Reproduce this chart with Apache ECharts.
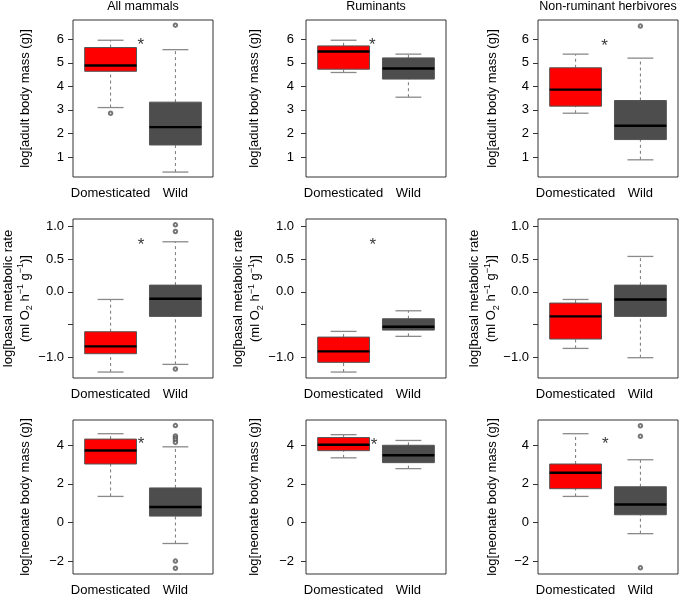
<!DOCTYPE html>
<html><head><meta charset="utf-8">
<script src="https://cdn.jsdelivr.net/npm/echarts@6/dist/echarts.min.js"></script>
<style>html,body{margin:0;padding:0;background:#fff;}#chart{width:685px;height:597px;}</style>
</head><body><div id="chart"></div>
<script>
// ---------- DATA ----------
const columnTitles = ['All mammals', 'Ruminants', 'Non-ruminant herbivores'];
const groupLabels = ['Domesticated', 'Wild'];
const groupPositions = [1, 2];
// box statistics: [lower whisker, Q1, median, Q3, upper whisker], one per column
const adultMassDomesticated = [[3.10, 4.64, 4.89, 5.65, 5.96], [4.59, 4.73, 5.48, 5.72, 5.96], [2.86, 3.16, 3.86, 4.79, 5.37]];
const adultMassWild = [[0.36, 1.51, 2.27, 3.33, 5.56], [3.54, 4.31, 4.76, 5.21, 5.37], [0.88, 1.74, 2.33, 3.40, 5.20]];
const adultMassDomesticatedOutliers = [[2.86], [], []];
const adultMassWildOutliers = [[6.60], [], [6.56]];
const bmrDomesticated = [[-1.224, -0.944, -0.832, -0.608, -0.115], [-1.224, -1.076, -0.908, -0.690, -0.603], [-0.863, -0.720, -0.374, -0.170, -0.115]];
const bmrWild = [[-1.107, -0.374, -0.104, 0.104, 0.766], [-0.679, -0.583, -0.532, -0.410, -0.288], [-1.005, -0.374, -0.115, 0.104, 0.542]];
const bmrDomesticatedOutliers = [[], [], []];
const bmrWildOutliers = [[1.025, 0.924, -1.178], [], []];
const neonateDomesticated = [[1.35, 3.03, 3.73, 4.32, 4.60], [3.35, 3.72, 4.03, 4.40, 4.55], [1.35, 1.75, 2.58, 3.03, 4.60]];
const neonateWild = [[-1.09, 0.33, 0.80, 1.79, 3.92], [2.79, 3.10, 3.48, 4.00, 4.25], [-0.58, 0.40, 0.93, 1.85, 3.25]];
const neonateDomesticatedOutliers = [[], [], []];
const neonateWildOutliers = [[5.02, 4.48, 4.38, 4.27, 4.15, -2.00, -2.37], [], [5.01, 4.47, -2.35]];
// significance asterisks [x, y] per column (null = none)
const adultMassAsterisks = [[1.465, 5.94], [1.443, 5.94], [1.448, 5.90]];
const bmrAsterisks = [[1.469, 0.786], [1.449, 0.786], null];
const neonateAsterisks = [[1.469, 4.30], [1.469, 4.25], [1.459, 4.30]];
// y axes: ticks, labelled ticks, limits
const adultMassTicks = [1, 2, 3, 4, 5, 6];
const adultMassTickLabels = [1, 2, 3, 4, 5, 6];
const adultMassLimits = [0.15, 6.82];
const bmrTicks = [-1, -0.5, 0, 0.5, 1];
const bmrTickLabels = [-1, 0, 0.5, 1];
const bmrLimits = [-1.315, 1.114];
const neonateTicks = [-2, 0, 2, 4];
const neonateTickLabels = [-2, 0, 2, 4];
const neonateLimits = [-2.67, 5.31];

// ---------- LAYOUT / STYLE ----------
const FONT = "'Liberation Sans', Arial, Helvetica, sans-serif";
const X_MIN = 0.42, X_MAX = 2.58;
const colLeft = [73, 306, 538];
const colWidth = 140;
const rowTop = [20, 219, 420];
const rowHeight = [157, 159, 158];
const labelMargin = [9, 12, 9];
const nameGap = [41, 45, 39];
const twoLineNameCenterX = [16.5, 247, 483];
const groupColors = ['#FF0000', '#4D4D4D'];

const rows = [
  { dom: adultMassDomesticated, wild: adultMassWild, domOut: adultMassDomesticatedOutliers, wildOut: adultMassWildOutliers,
    ast: adultMassAsterisks, ticks: adultMassTicks, labels: adultMassTickLabels, lim: adultMassLimits,
    name: 'log[adult body mass (g)]', fmt: v => String(v) },
  { dom: bmrDomesticated, wild: bmrWild, domOut: bmrDomesticatedOutliers, wildOut: bmrWildOutliers,
    ast: bmrAsterisks, ticks: bmrTicks, labels: bmrTickLabels, lim: bmrLimits,
    name: '{a|log[basal metabolic rate}\n{a|(ml O}{sub|2}{a| h}{sup|−1}{a| g}{sup|−1}{a|)]}', rich: true,
    fmt: v => v.toFixed(1).replace('-', '−') },
  { dom: neonateDomesticated, wild: neonateWild, domOut: neonateDomesticatedOutliers, wildOut: neonateWildOutliers,
    ast: neonateAsterisks, ticks: neonateTicks, labels: neonateTickLabels, lim: neonateLimits,
    name: 'log[neonate body mass (g)]', fmt: v => String(v).replace('-', '−') }
];

function renderBox(params, api) {
  const x = api.value(0);
  const lw = api.value(1), q1 = api.value(2), med = api.value(3), q3 = api.value(4), uw = api.value(5);
  const gi = api.value(6);
  const half = 0.4, capHalf = 0.2;
  const xl = api.coord([x - half, med])[0];
  const xr = api.coord([x + half, med])[0];
  const xc = api.coord([x, med])[0];
  const cl = api.coord([x - capHalf, med])[0];
  const cr = api.coord([x + capHalf, med])[0];
  const yLw = api.coord([x, lw])[1], yQ1 = api.coord([x, q1])[1], yMed = api.coord([x, med])[1];
  const yQ3 = api.coord([x, q3])[1], yUw = api.coord([x, uw])[1];
  const dash = { stroke: '#777', lineWidth: 1, lineDash: [3, 3] };
  const cap = { stroke: '#8a8a8a', lineWidth: 1.3 };
  return {
    type: 'group',
    children: [
      { type: 'line', shape: { x1: xc, y1: yQ3, x2: xc, y2: yUw }, style: dash },
      { type: 'line', shape: { x1: xc, y1: yLw, x2: xc, y2: yQ1 }, style: dash },
      { type: 'line', shape: { x1: cl, y1: yUw, x2: cr, y2: yUw }, style: cap },
      { type: 'line', shape: { x1: cl, y1: yLw, x2: cr, y2: yLw }, style: cap },
      { type: 'rect', shape: { x: xl, y: yQ3, width: xr - xl, height: yQ1 - yQ3 },
        style: { fill: groupColors[gi], stroke: '#555', lineWidth: 1 } },
      { type: 'line', shape: { x1: xl, y1: yMed, x2: xr, y2: yMed }, style: { stroke: '#000', lineWidth: 2.4 } }
    ]
  };
}

const grid = [], xAxis = [], yAxis = [], series = [], title = [], graphic = [];
for (let c = 0; c < 3; c++) {
  title.push({ text: columnTitles[c], left: colLeft[c] + colWidth / 2, top: 0, textAlign: 'center', padding: 0,
    textStyle: { fontFamily: FONT, fontSize: 12.5, fontWeight: 'normal', color: '#000' } });
}
rows.forEach((row, r) => {
  for (let c = 0; c < 3; c++) {
    const g = r * 3 + c;
    grid.push({ left: colLeft[c], top: rowTop[r], width: colWidth, height: rowHeight[r],
      show: true, borderColor: '#333', borderWidth: 1, backgroundColor: 'transparent' });
    xAxis.push({ type: 'value', gridIndex: g, min: X_MIN, max: X_MAX,
      axisLine: { show: false }, axisTick: { show: false }, splitLine: { show: false },
      axisLabel: { customValues: groupPositions, formatter: v => groupLabels[Math.round(v) - 1],
        fontFamily: FONT, fontSize: 13, color: '#000', margin: 10 } });
    const yA = { type: 'value', gridIndex: g, min: row.lim[0], max: row.lim[1],
      axisLine: { show: false }, splitLine: { show: false },
      axisTick: { show: true, customValues: row.ticks, length: 5, lineStyle: { color: '#333', width: 1 } },
      axisLabel: { customValues: row.labels, formatter: v => row.fmt(v),
        fontFamily: FONT, fontSize: 13, color: '#000', margin: labelMargin[c] } };
    if (row.rich) {
      // two-line rotated title with sub/superscripts, drawn as a text element beside the axis
      graphic.push({ type: 'text', x: twoLineNameCenterX[c], y: rowTop[r] + rowHeight[r] / 2, rotation: Math.PI / 2, silent: true,
        style: { text: row.name, fontFamily: FONT, fontSize: 13, fill: '#000', align: 'center', verticalAlign: 'middle', lineHeight: 17,
          rich: {
            a: { fontFamily: FONT, fontSize: 13, fill: '#000', lineHeight: 17 },
            sub: { fontFamily: FONT, fontSize: 9, fill: '#000', lineHeight: 17, verticalAlign: 'bottom', padding: [0, 0, -1, 0] },
            sup: { fontFamily: FONT, fontSize: 9, fill: '#000', lineHeight: 17, verticalAlign: 'top' }
          } } });
    } else {
      yA.name = row.name;
      yA.nameLocation = 'middle';
      yA.nameGap = nameGap[c];
      yA.nameTextStyle = { fontFamily: FONT, fontSize: 13, color: '#000' };
    }
    yAxis.push(yA);
    series.push({ type: 'custom', xAxisIndex: g, yAxisIndex: g, renderItem: renderBox, silent: true,
      data: [[groupPositions[0]].concat(row.dom[c], [0]), [groupPositions[1]].concat(row.wild[c], [1])] });
    const outs = row.domOut[c].map(v => [groupPositions[0], v]).concat(row.wildOut[c].map(v => [groupPositions[1], v]));
    series.push({ type: 'scatter', xAxisIndex: g, yAxisIndex: g, silent: true, data: outs,
      symbol: 'emptyCircle', symbolSize: 3.5, itemStyle: { color: '#555', borderColor: '#555', borderWidth: 1.1 } });
    if (row.ast[c]) {
      series.push({ type: 'scatter', xAxisIndex: g, yAxisIndex: g, silent: true, data: [row.ast[c]],
        symbolSize: 2, itemStyle: { color: 'rgba(0,0,0,0)' },
        label: { show: true, formatter: '*', position: 'inside', offset: [0, 5], fontFamily: FONT, fontSize: 17, color: '#000' } });
    }
  }
});

const chart = echarts.init(document.getElementById('chart'), null, { renderer: 'canvas' });
chart.setOption({ animation: false, backgroundColor: '#fff', title, grid, xAxis, yAxis, series, graphic });
</script></body></html>
